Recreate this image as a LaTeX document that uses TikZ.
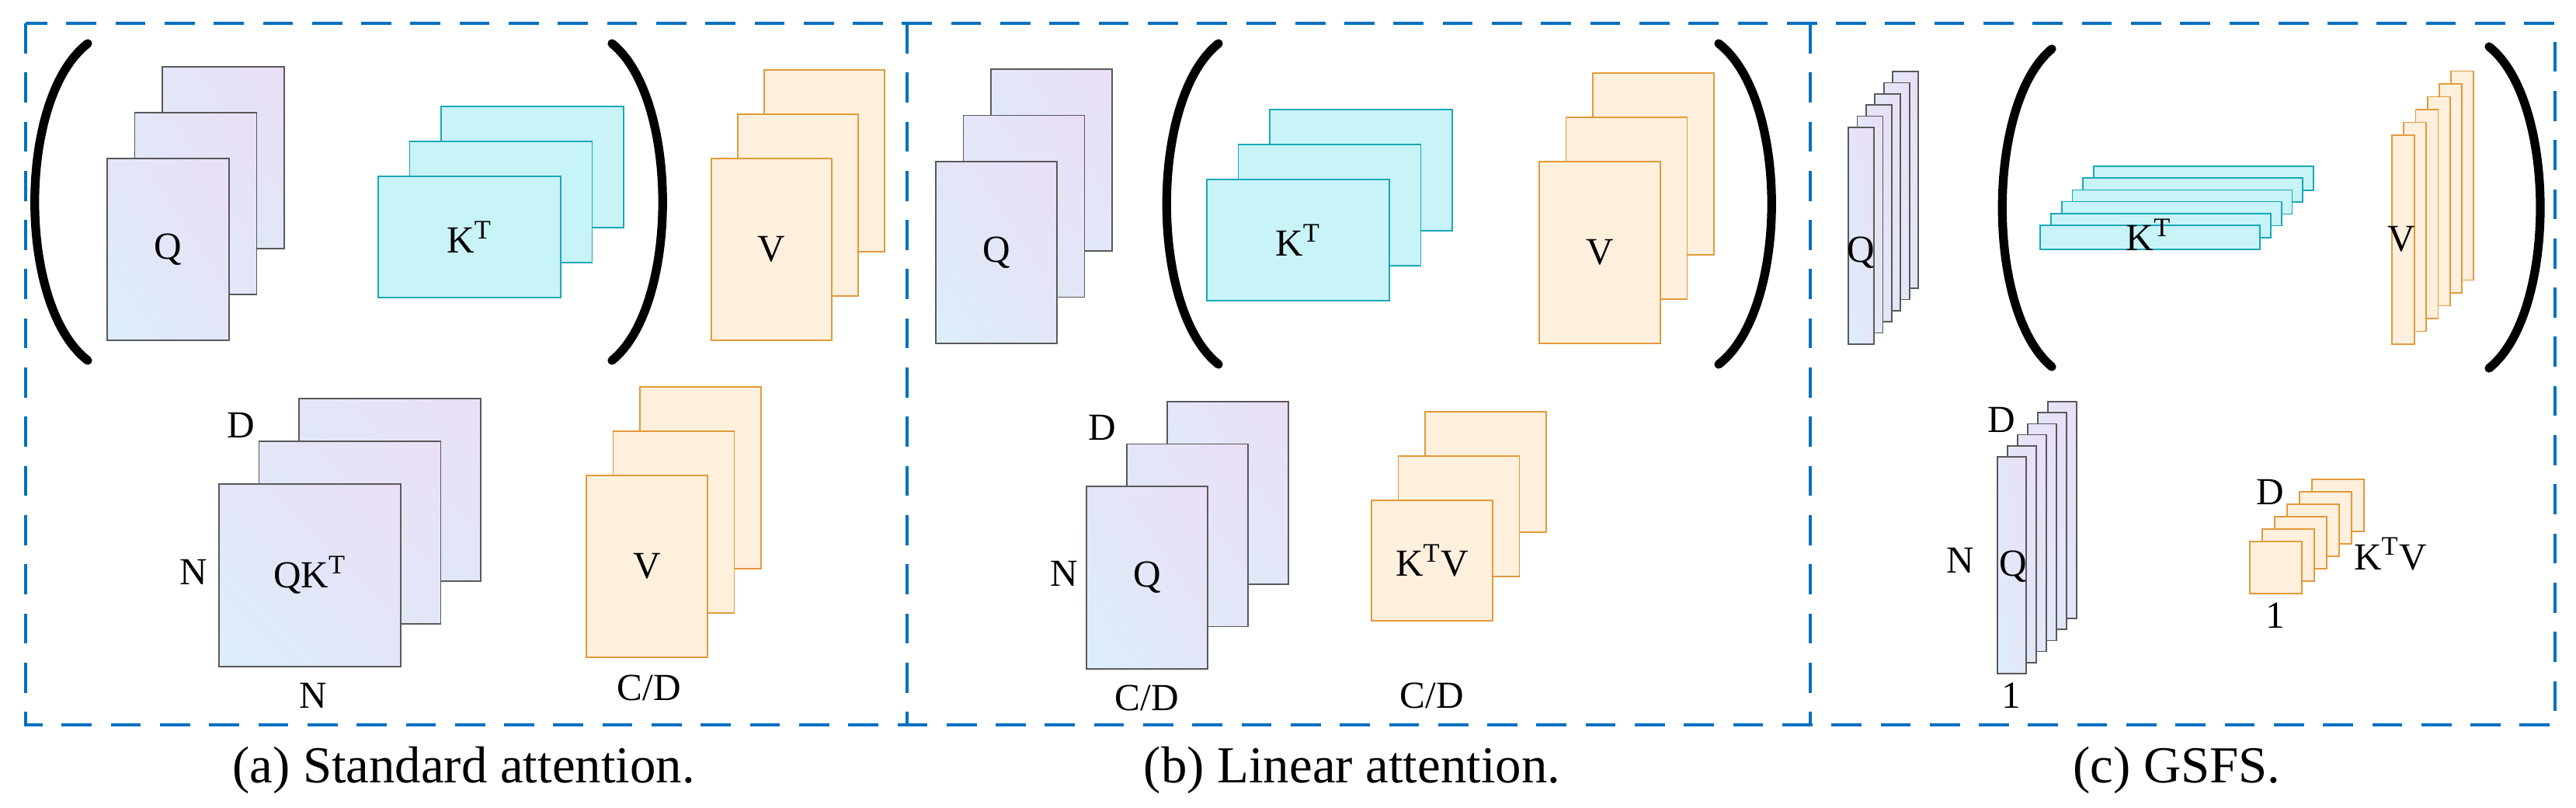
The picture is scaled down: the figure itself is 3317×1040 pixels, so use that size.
\documentclass[tikz,border=0pt]{standalone}
\usepackage{fontspec}
\setmainfont{Liberation Serif}
\usetikzlibrary{positioning,shadings}

\definecolor{qblue}{HTML}{DCEEFA}
\definecolor{qlav}{HTML}{EADEF6}
\definecolor{qmid}{HTML}{E3E6F8}
\definecolor{kfill}{HTML}{C8F3F7}
\definecolor{kline}{HTML}{1AA8B8}
\definecolor{vfill}{HTML}{FFF0DE}
\definecolor{vline}{HTML}{E39A3A}
\definecolor{frame}{HTML}{0070C0}

\tikzset{
  mat/.style={draw, inner sep=0pt, outer sep=0pt, line width=0.5pt},
  qmat/.style={mat, draw=black!65, lower left=qblue, upper right=qlav,
    upper left=qmid, lower right=qmid},
  kmat/.style={mat, draw=kline, fill=kfill},
  vmat/.style={mat, draw=vline, fill=vfill},
  lab/.style={font=\fontsize{14}{16}\selectfont, inner sep=0pt},
  caption/.style={font=\fontsize{19}{22}\selectfont, inner sep=0pt},
  paren/.style={line width=3.2pt, line cap=round},
  panel/.style={draw=frame, line width=1.2pt, dash pattern=on 11pt off 7pt}
}

% stack of sheets: name, style, last index, front x, front y, width, height, dx, dy
\newcommand{\mstack}[9]{%
  \foreach \i in {#3,...,0}{
    \node[#2, minimum width=#6*0.01cm, minimum height=#7*0.01cm, anchor=north west]
      (#1\i) at ({#4+\i*#8},{#5+\i*#9}) {};
  }%
}
% big parenthesis: top/bottom end x, top y, bottom y, control x
\newcommand{\bigparen}[4]{%
  \draw[paren] (#1,#2) .. controls (#4,#2+70) and (#4,#3-70) .. (#1,#3);
}

\begin{document}
\begin{tikzpicture}[x=0.01cm, y=-0.01cm]
\useasboundingbox (0,0) rectangle (3317,1040);

% frames
\draw[panel] (33,30) rectangle (3290,933);
\draw[panel] (1168,30) -- (1168,933);
\draw[panel] (2331,30) -- (2331,933);

% (a) standard attention
\bigparen{113}{56}{464}{22}
\bigparen{788}{56}{464}{875}
\mstack{qa}{qmat}{2}{138}{204}{157}{234}{35.5}{-59}
\mstack{ka}{kmat}{2}{487}{227}{235}{156}{40.5}{-45}
\mstack{va}{vmat}{2}{916}{204}{155}{234}{34}{-57}
\node[lab] (qaL) at (qa0.center) {Q};
\node[lab] (kaL) at (ka0.center) {K\textsuperscript{T}};
\node[lab] (vaL) at (va0.center) {V};
\mstack{qka}{qmat}{2}{282}{623}{234}{235}{51.5}{-55}
\mstack{vb}{vmat}{2}{755}{612}{156}{234}{34.5}{-57}
\node[lab] (qkaL) at (qka0.center) {QK\textsuperscript{T}};
\node[lab] (vbL) at (vb0.center) {V};
\node[lab] (qkaD) at (310,547) {D};
\node[lab] (qkaN) at (249,736) {N};
\node[lab] (qkaM) at (403,895) {N};
\node[lab] (vbC) at (836,885) {C/D};
\node[caption] (capa) at (597,991) {(a) Standard attention.};

% (b) linear attention
\bigparen{1569}{56}{469}{1480}
\bigparen{2213}{56}{469}{2304}
\mstack{qb}{qmat}{2}{1205}{208}{156}{234}{35.5}{-59.5}
\mstack{kb}{kmat}{2}{1554}{231}{235}{156}{40.5}{-45}
\mstack{vbb}{vmat}{2}{1982}{208}{156}{234}{34.5}{-57}
\node[lab] (qbL) at (qb0.center) {Q};
\node[lab] (kbL) at (kb0.center) {K\textsuperscript{T}};
\node[lab] (vbbL) at (vbb0.center) {V};
\mstack{qqb}{qmat}{2}{1399}{626}{156}{235}{52}{-54.5}
\mstack{kvb}{vmat}{2}{1766}{644}{156}{155}{34.5}{-57}
\node[lab] (qqbL) at (qqb0.center) {Q};
\node[lab] (kvbL) at (kvb0.center) {K\textsuperscript{T}V};
\node[lab] (qqbD) at (1419,550) {D};
\node[lab] (qqbN) at (1370,738) {N};
\node[lab] (qqbC) at (1477,898) {C/D};
\node[lab] (kvbC) at (1844,895) {C/D};
\node[caption] (capb) at (1741,991) {(b) Linear attention.};

% (c) GSFS
\bigparen{2642}{63}{472}{2557}
\bigparen{3205}{60}{474}{3293}
\mstack{qc}{qmat}{5}{2380}{164}{33}{279}{11.4}{-14.4}
\mstack{kc}{kmat}{5}{2627}{290}{283}{31}{13.8}{-15.2}
\mstack{vc}{vmat}{5}{3080}{174}{29}{269}{15.2}{-16.5}
\node[lab] (qcL) at (2396,325) {Q};
\node[lab] (kcL) at (2767,302) {K\textsuperscript{T}};
\node[lab] (vcL) at (3092,308) {V};
\mstack{qqc}{qmat}{5}{2572}{588}{37}{279}{13}{-14.2}
\mstack{kvc}{vmat}{5}{2897}{697}{67}{67}{16}{-16}
\node[lab] (qqcL) at (2592,729) {Q};
\node[lab] (qqcD) at (2577,540) {D};
\node[lab] (qqcN) at (2524,721) {N};
\node[lab] (qqcO) at (2590,895) {1};
\node[lab] (kvcD) at (2923,633) {D};
\node[lab] (kvcL) at (3078,713) {K\textsuperscript{T}V};
\node[lab] (kvcO) at (2930,792) {1};
\node[caption] (capc) at (2803,991) {(c) GSFS.};
\end{tikzpicture}
\end{document}
